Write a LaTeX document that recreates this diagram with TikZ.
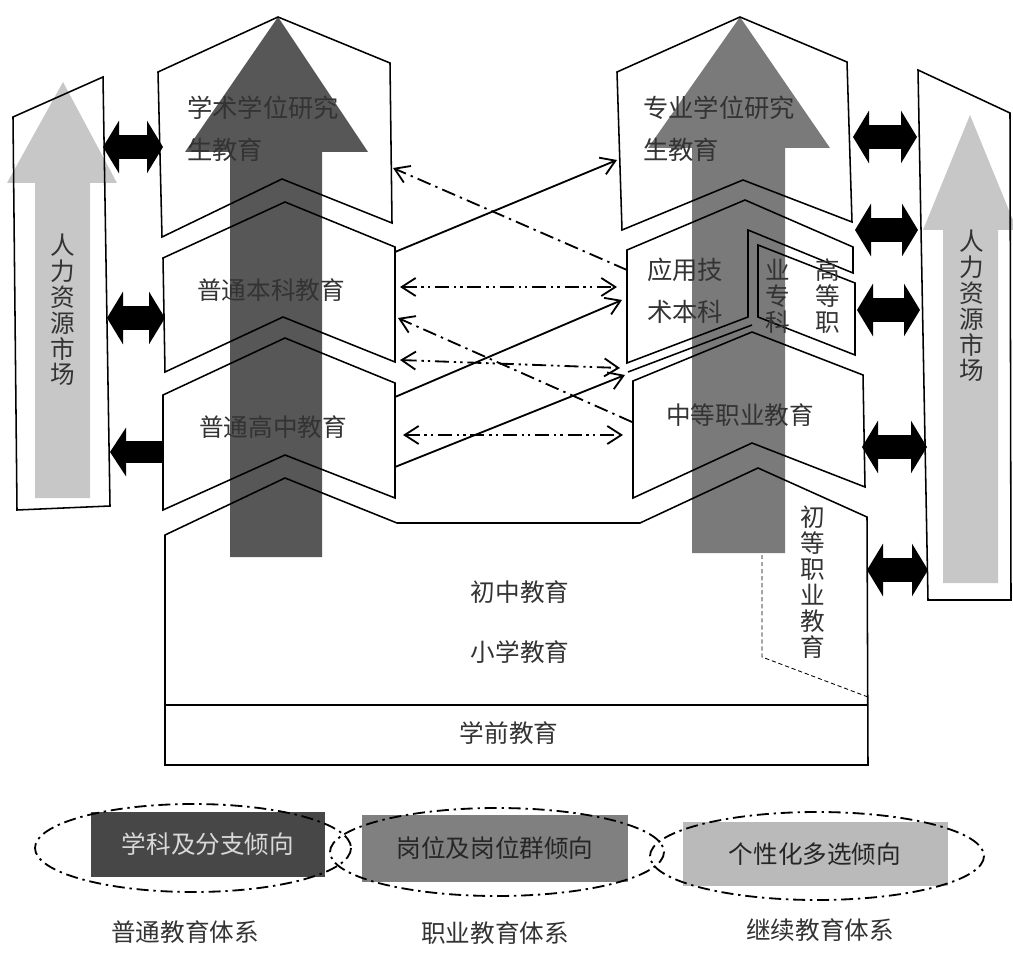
\documentclass[tikz,border=0pt]{standalone}
\usepackage{fontspec}
\setmainfont{Noto Sans CJK SC}
\usepackage{tikz}
\usetikzlibrary{arrows.meta}

\begin{document}
\begin{tikzpicture}[
    x=0.25mm, y=-0.25mm,
    stage/.style={
        draw=black,
        line width=1.1pt,
        line join=miter
    },
    market/.style={
        draw=black,
        line width=1.1pt
    },
    label/.style={
        font=\fontsize{17.5}{21}\selectfont,
        text=black!80,
        inner sep=0pt
    },
    twoline/.style={
        label,
        align=left,
        anchor=west,
        font=\fontsize{18}{30}\selectfont
    },
    upright/.style={
        label,
        align=center,
        font=\fontsize{17.5}{18.4}\selectfont
    },
    flow/.style={
        -{Straight Barb[length=3.5mm,width=4.5mm]},
        line width=1.3pt
    },
    feedback/.style={
        flow,
        dash pattern=on 3.5mm off 1.3mm on 0.6mm off 1.3mm
    },
    exchange/.style={
        {Straight Barb[length=3.5mm,width=4.5mm]}-{Straight Barb[length=3.5mm,width=4.5mm]},
        line width=1.3pt,
        dash pattern=on 3.5mm off 1.2mm on 0.6mm off 1mm on 0.6mm off 1.2mm
    },
    link/.style={
        {Triangle[length=4mm,width=13mm]}-{Triangle[length=4mm,width=13mm]},
        line width=6mm
    },
    outflow/.style={
        {Triangle[length=4mm,width=12mm]}-,
        line width=5.6mm
    },
    trend/.style={
        rectangle,
        inner sep=0pt,
        font=\fontsize{17.5}{21}\selectfont
    },
    sphere/.style={
        draw=black,
        line width=1.3pt,
        dash pattern=on 3mm off 1.2mm on 0.6mm off 1.2mm
    }
]
\useasboundingbox (0,0) rectangle (1013,958);

% human resource markets
\fill[black!22] (63,82) -- (117,183) -- (90,183) -- (90,498) -- (35,498) -- (35,183) -- (7,183) -- cycle;
\fill[black!22] (970,115) -- (1017,230) -- (998,230) -- (998,583) -- (943,583) -- (943,230) -- (923,230) -- cycle;
\draw[market] (13,117) -- (103,77) -- (110,506) -- (17,510) -- cycle;
\draw[market] (918,70) -- (1010,113) -- (1011,600) -- (928,600) -- cycle;

% the two ladders
\fill[black!66] (278,17) -- (368,152) -- (322,152) -- (322,557) -- (230,557) -- (230,152) -- (185,152) -- cycle;
\fill[black!52] (740,17) -- (830,148) -- (785,148) -- (785,553) -- (692,553) -- (692,148) -- (648,148) -- cycle;

% general education
\draw[stage] (158,72) -- (278,17) -- (390,63) -- (392,223) -- (282,179) -- (162,237) -- cycle;
\draw[stage] (163,258) -- (285,202) -- (395,247) -- (395,362) -- (283,317) -- (165,372) -- cycle;
\draw[stage] (163,395) -- (285,338) -- (395,383) -- (395,498) -- (285,455) -- (163,510) -- cycle;

% vocational education
\draw[stage] (617,72) -- (740,17) -- (847,62) -- (852,222) -- (743,180) -- (622,230) -- cycle;
\draw[stage] (627,250) -- (745,200) -- (853,247) -- (853,273) -- (748,230) -- (748,317) -- (627,363) -- cycle;
\draw[stage] (758,245) -- (855,283) -- (855,355) -- (758,317) -- cycle;
\draw[stage] (628,372) -- (752,325);
\draw[stage] (633,381) -- (752,332) -- (863,375) -- (865,487) -- (752,443) -- (633,498) -- cycle;

% basic education
\draw[stage] (165,535) -- (285,478) -- (397,523) -- (640,523) -- (758,468) -- (867,517) -- (868,765) -- (165,765) -- cycle;
\draw[stage] (165,705) -- (868,705);
\draw[line width=0.6pt, densely dashed] (762,555) -- (762,657) -- (868,697);

% texts
\node[upright] (hrL) at (63,310) {人\\力\\资\\源\\市\\场};
\node[upright] (hrR) at (972,306) {人\\力\\资\\源\\市\\场};
\node[twoline] (xsyjs) at (187,129) {学术学位研究\\生教育};
\node[twoline] (zyyjs) at (643,129) {专业学位研究\\生教育};
\node[label] (bk) at (271,290) {普通本科教育};
\node[label] (gz) at (273,427) {普通高中教育};
\node[twoline] (yybk) at (647,291) {应用技\\术本科};
\node[upright] (gzzkA) at (778,296) {业\\专\\科};
\node[upright] (gzzkB) at (828,296) {高\\等\\职};
\node[label] (zz) at (740,415) {中等职业教育};
\node[upright] (cdzy) at (813,582) {初\\等\\职\\业\\教\\育};
\node[label] (cz) at (520,592) {初中教育};
\node[label] (xx) at (520,652) {小学教育};
\node[label] (xq) at (509,733) {学前教育};

% links between the two systems
\coordinate (xsE) at (393,168);
\coordinate (bkNE) at (395,252);
\coordinate (bkE1) at (400,287);
\coordinate (bkE2) at (398,318);
\coordinate (gzE1) at (400,360);
\coordinate (gzNE) at (395,397);
\coordinate (gzE2) at (403,435);
\coordinate (gzSE) at (395,467);
\coordinate (zyW) at (617,160);
\coordinate (yyW1) at (627,270);
\coordinate (yyW2) at (617,287);
\coordinate (yyW3) at (622,300);
\coordinate (yySW) at (620,368);
\coordinate (zzNW) at (625,375);
\coordinate (zzW1) at (632,422);
\coordinate (zzW2) at (623,435);

\draw[flow] (bkNE) -- (zyW);
\draw[feedback] (yyW1) -- (xsE);
\draw[exchange] (bkE1) -- (yyW2);
\draw[flow] (gzNE) -- (yyW3);
\draw[feedback] (zzW1) -- (bkE2);
\draw[exchange] (gzE1) -- (yySW);
\draw[flow] (gzSE) -- (zzNW);
\draw[exchange] (gzE2) -- (zzW2);

% links to the markets
\draw[link] (103,147) -- (163,147);
\draw[link] (107,318) -- (165,318);
\draw[outflow] (110,452) -- (162,452);
\draw[link] (853,137) -- (917,137);
\draw[link] (855,230) -- (918,230);
\draw[link] (857,310) -- (920,310);
\draw[link] (862,447) -- (927,447);
\draw[link] (867,570) -- (928,570);

% legend
\node[trend, fill=black!72, text=white!85!black, minimum width=58.25mm, minimum height=16.25mm] (xkfz) at (208,844) {学科及分支倾向};
\node[trend, fill=black!50, text=black!85, minimum width=66.5mm, minimum height=16.75mm] (gwq) at (495,848) {岗位及岗位群倾向};
\node[trend, fill=black!27, text=black!85, minimum width=66.25mm, minimum height=16mm] (gxh) at (815,854) {个性化多选倾向};
\draw[sphere] (193,848) ellipse [x radius=158, y radius=44];
\draw[sphere] (497,852) ellipse [x radius=167, y radius=44];
\draw[sphere] (817,856) ellipse [x radius=167, y radius=44];
\node[label] (ptjy) at (185,932) {普通教育体系};
\node[label] (zyjy) at (495,933) {职业教育体系};
\node[label] (jxjy) at (820,930) {继续教育体系};

\end{tikzpicture}
\end{document}
